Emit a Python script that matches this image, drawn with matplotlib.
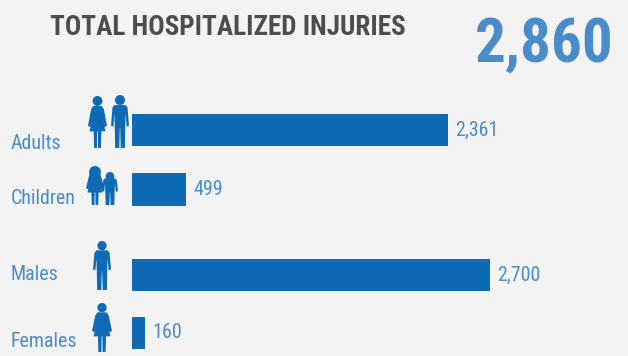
import matplotlib
matplotlib.use("Agg")
import matplotlib.pyplot as plt
from matplotlib import font_manager
from matplotlib.patches import Circle, Polygon

categories = ["Adults", "Children", "Males", "Females"]
value_labels = ["2,361", "499", "2,700", "160"]
# bar lengths as drawn in the picture, it does not scale them exactly to the labels
bar_lengths = [2383, 407, 2700, 98]
title = "TOTAL HOSPITALIZED INJURIES"
total = "2,860"

bg = "#f3f3f3"
bar_color = "#0e6ab5"
text_blue = "#4a8cca"

# condensed face if the machine has it, otherwise plain Roboto at sizes that fit the same width
names = {f.name for f in font_manager.fontManager.ttflist}
if "Roboto Condensed" in names:
    font = "Roboto Condensed"
    title_size, total_size, label_size = 19.5, 44, 14.4
else:
    font = "Roboto"
    title_size, total_size, label_size = 17.2, 39, 12.6

male = [(-.31, .19), (.31, .19), (.42, .24), (.5, .58), (.37, .6), (.31, .36), (.29, .62), (.27, 1),
        (.04, 1), (.01, .62), (-.01, .62), (-.04, 1), (-.27, 1), (-.29, .62), (-.31, .36),
        (-.37, .6), (-.5, .58), (-.42, .24)]
female = [(-.22, .19), (.22, .19), (.33, .25), (.5, .57), (.38, .6), (.27, .42), (.42, .68), (.2, .68),
          (.18, 1), (.03, 1), (.02, .68), (-.02, .68), (-.03, 1), (-.18, 1), (-.2, .68), (-.42, .68),
          (-.27, .42), (-.38, .6), (-.5, .57), (-.33, .25)]


def person(ax, shape, x0, x1, y0, y1, head=0.095, hair=False):
    w = x1 - x0
    h = y1 - y0
    cx = (x0 + x1) / 2
    pts = [(cx + px * w, y0 + py * h) for px, py in shape]
    ax.add_patch(Polygon(pts, closed=True, fc=bar_color, ec="none"))
    ax.add_patch(Circle((cx, y0 + head * h), head * h, fc=bar_color, ec="none"))
    if hair:
        ax.add_patch(Polygon([(cx - 0.33 * w, y0 + 0.24 * h), (cx + 0.33 * w, y0 + 0.24 * h),
                              (cx + 0.2 * w, y0 + 0.05 * h), (cx - 0.2 * w, y0 + 0.05 * h)],
                             closed=True, fc=bar_color, ec="none"))


fig = plt.figure(figsize=(6.28, 3.56), dpi=100, facecolor=bg)

# bars, y is in pixels from the top of the figure
ax = fig.add_axes([132 / 628, 0, 496 / 628, 1])
ax.set_xlim(0, 496 * 2700 / 358)
ax.set_ylim(356, 0)
ax.axis("off")
bar_y = [130, 189.5, 275, 333]
ax.barh(bar_y, bar_lengths, height=32.5, color=bar_color)
for y, length, label in zip(bar_y, bar_lengths, value_labels):
    ax.annotate(label, (length, y), xytext=(5, 0), textcoords="offset points", va="center", ha="left",
                fontsize=label_size, color=text_blue, family=font)

# overlay in pixels for the text and icons
ov = fig.add_axes([0, 0, 1, 1])
ov.set_xlim(0, 628)
ov.set_ylim(356, 0)
ov.axis("off")
ov.patch.set_alpha(0)

ov.text(50, 35, title, fontsize=title_size, fontweight="bold", color="#4d4d4d", family=font, va="baseline")
ov.text(614, 62, total, fontsize=total_size, fontweight="bold", color=text_blue, family=font, ha="right", va="baseline")

label_y = [149, 204, 280, 347]
for y, name in zip(label_y, categories):
    ov.text(11, y, name, fontsize=label_size, color=text_blue, family=font, va="baseline")

person(ov, female, 88, 107, 96, 148)
person(ov, male, 111, 129, 95, 148)
person(ov, female, 86, 104, 166, 205, head=0.15, hair=True)
person(ov, male, 102, 118, 172, 205, head=0.13)
person(ov, male, 93, 111, 241, 290)
person(ov, female, 92, 112, 303, 352)

fig.savefig("out.png", dpi=100, facecolor=bg)
